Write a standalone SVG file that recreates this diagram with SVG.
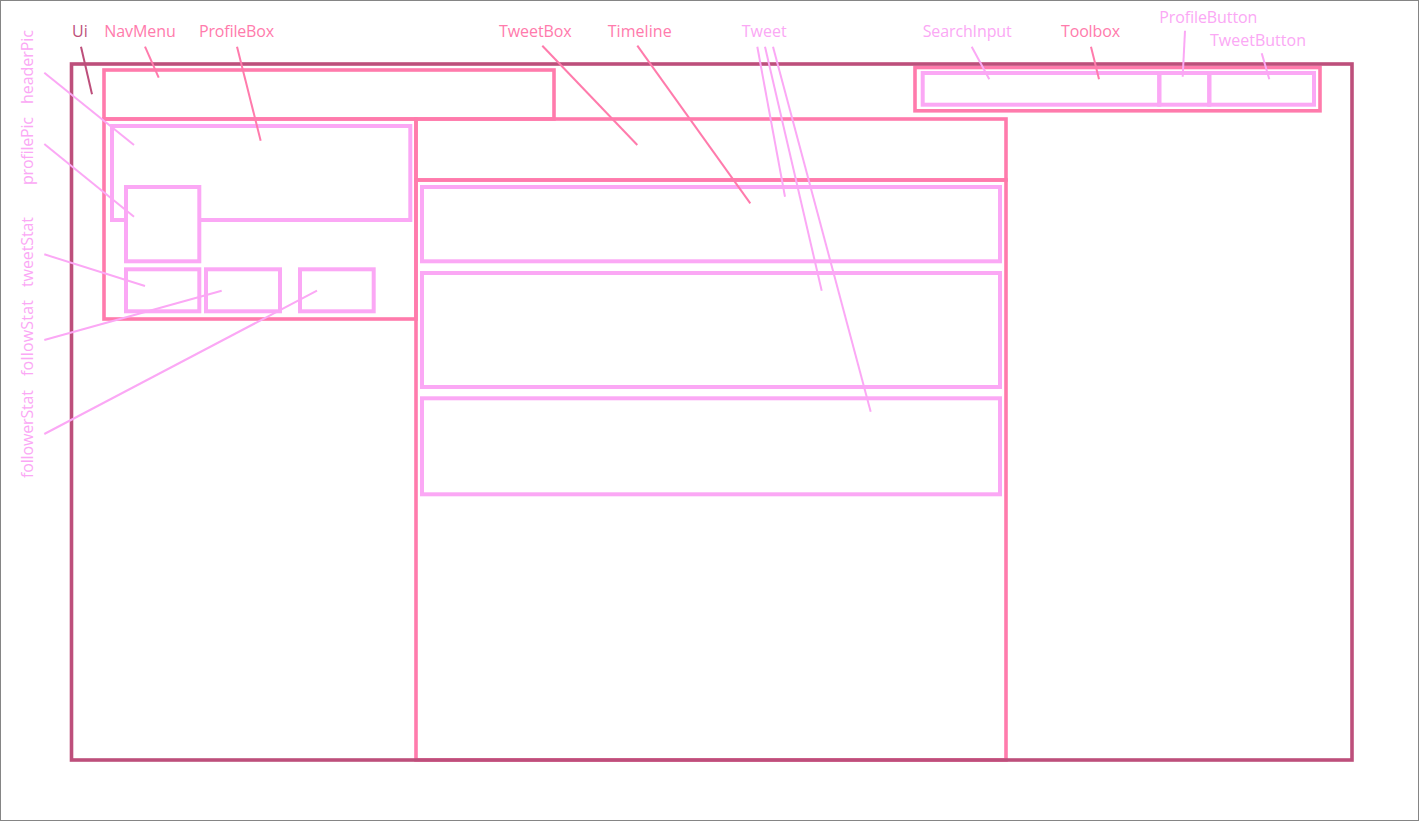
<svg xmlns="http://www.w3.org/2000/svg" width="1419" height="821" viewBox="0 0 1419 821">
<style>
  .ui { fill: none; stroke: #BD4F7B; stroke-width: 3.6; }
  .pk { fill: none; stroke: #FF7BAC; stroke-width: 3.6; }
  .lp { fill: none; stroke: #FBA8F5; stroke-width: 4; }
  .lpf { fill: #FFFFFF; stroke: #FBA8F5; stroke-width: 4; }
  .lbl { font-family: "Open Sans", "Noto Sans", "Liberation Sans", sans-serif; font-size: 16px; }
  .t-ui { fill: #BD4F7B; }
  .t-pk { fill: #FF7BAC; }
  .t-lp { fill: #FBA8F5; }
  .c-ui { stroke: #BD4F7B; stroke-width: 2; fill: none; }
  .c-pk { stroke: #FF7BAC; stroke-width: 2; fill: none; }
  .c-lp { stroke: #FBA8F5; stroke-width: 2; fill: none; }
</style>
<rect x="0.5" y="0.5" width="1418" height="820" fill="#FFFFFF" stroke="#858585" stroke-width="1"/>

<g id="NavMenu">
  <rect class="pk" x="104" y="70" width="450" height="49"/>
  <text class="lbl t-pk" x="104.3" y="36.5" textLength="71.5">NavMenu</text>
</g>
<g id="ProfileBox">
  <rect class="pk" x="104" y="119" width="312" height="200"/>
  <text class="lbl t-pk" x="199" y="36.5" textLength="75">ProfileBox</text>
</g>
<g id="headerPic">
  <rect class="lp" x="112" y="126" width="298.3" height="94"/>
  <text class="lbl t-lp" transform="translate(33,104) rotate(-90)" textLength="74">headerPic</text>
</g>
<g id="profilePic">
  <rect class="lpf" x="126" y="187" width="73.3" height="74.3"/>
  <text class="lbl t-lp" transform="translate(33,185) rotate(-90)" textLength="68">profilePic</text>
</g>
<g id="tweetStat">
  <rect class="lp" x="126" y="269.3" width="73.3" height="42"/>
  <text class="lbl t-lp" transform="translate(33,287) rotate(-90)" textLength="70">tweetStat</text>
</g>
<g id="followStat">
  <rect class="lp" x="206" y="269.3" width="74" height="42"/>
  <text class="lbl t-lp" transform="translate(33,376) rotate(-90)" textLength="76">followStat</text>
</g>
<g id="followerStat">
  <rect class="lp" x="300" y="269.3" width="73.7" height="42"/>
  <text class="lbl t-lp" transform="translate(33,478) rotate(-90)" textLength="88">followerStat</text>
</g>
<g id="TweetBox">
  <rect class="pk" x="416" y="119" width="590" height="61"/>
  <text class="lbl t-pk" x="499" y="36.5" textLength="72.7">TweetBox</text>
</g>
<g id="Timeline">
  <rect class="pk" x="416" y="180" width="590" height="580"/>
  <text class="lbl t-pk" x="607.7" y="36.5" textLength="64">Timeline</text>
</g>
<g id="Tweet">
  <rect class="lp" x="422" y="187" width="578" height="74.3"/>
  <rect class="lp" x="422" y="273" width="578" height="114"/>
  <rect class="lp" x="422" y="398.3" width="578" height="96"/>
  <text class="lbl t-lp" x="741.7" y="36.5" textLength="45">Tweet</text>
</g>
<g id="Toolbox">
  <rect class="pk" x="915" y="67.5" width="405" height="43.3"/>
  <text class="lbl t-pk" x="1061" y="36.5" textLength="59">Toolbox</text>
</g>
<g id="SearchInput">
  <rect class="lp" x="922.7" y="73" width="236.6" height="31.7"/>
  <text class="lbl t-lp" x="922.7" y="36.5" textLength="89">SearchInput</text>
</g>
<g id="ProfileButton">
  <rect class="lp" x="1159.3" y="73" width="50" height="31.7"/>
  <text class="lbl t-lp" x="1159.3" y="22.5" textLength="98">ProfileButton</text>
</g>
<g id="TweetButton">
  <rect class="lp" x="1209.3" y="73" width="104.7" height="31.7"/>
  <text class="lbl t-lp" x="1210" y="46" textLength="96">TweetButton</text>
</g>
<g id="Ui">
  <rect class="ui" x="71.5" y="64" width="1280.5" height="696"/>
  <text class="lbl t-ui" x="72" y="36.5">Ui</text>
</g>

<g id="connectors">
  <line class="c-ui" x1="81" y1="46.7" x2="92" y2="94.3"/>
  <line class="c-pk" x1="145" y1="46.7" x2="158.7" y2="77.7"/>
  <line class="c-pk" x1="237" y1="46.7" x2="260.7" y2="140.7"/>
  <line class="c-lp" x1="44.3" y1="72.7" x2="134" y2="145"/>
  <line class="c-lp" x1="44.3" y1="144" x2="134" y2="216.7"/>
  <line class="c-lp" x1="44.3" y1="254.3" x2="145" y2="286"/>
  <line class="c-lp" x1="44.3" y1="340" x2="221.7" y2="290.7"/>
  <line class="c-lp" x1="44.3" y1="434" x2="317" y2="290.7"/>
  <line class="c-pk" x1="542.3" y1="45.7" x2="637.3" y2="145"/>
  <line class="c-pk" x1="637.3" y1="45.7" x2="750.3" y2="203.3"/>
  <line class="c-lp" x1="757.3" y1="46.7" x2="785" y2="196.7"/>
  <line class="c-lp" x1="765" y1="46.7" x2="821.7" y2="290.7"/>
  <line class="c-lp" x1="773" y1="46.7" x2="870.7" y2="411.7"/>
  <line class="c-lp" x1="971.7" y1="46.7" x2="989.3" y2="79.3"/>
  <line class="c-pk" x1="1091" y1="46.7" x2="1099" y2="79.3"/>
  <line class="c-lp" x1="1185" y1="30.7" x2="1182.7" y2="76.7"/>
  <line class="c-lp" x1="1261.7" y1="53.3" x2="1269.3" y2="79.3"/>
</g>
</svg>
